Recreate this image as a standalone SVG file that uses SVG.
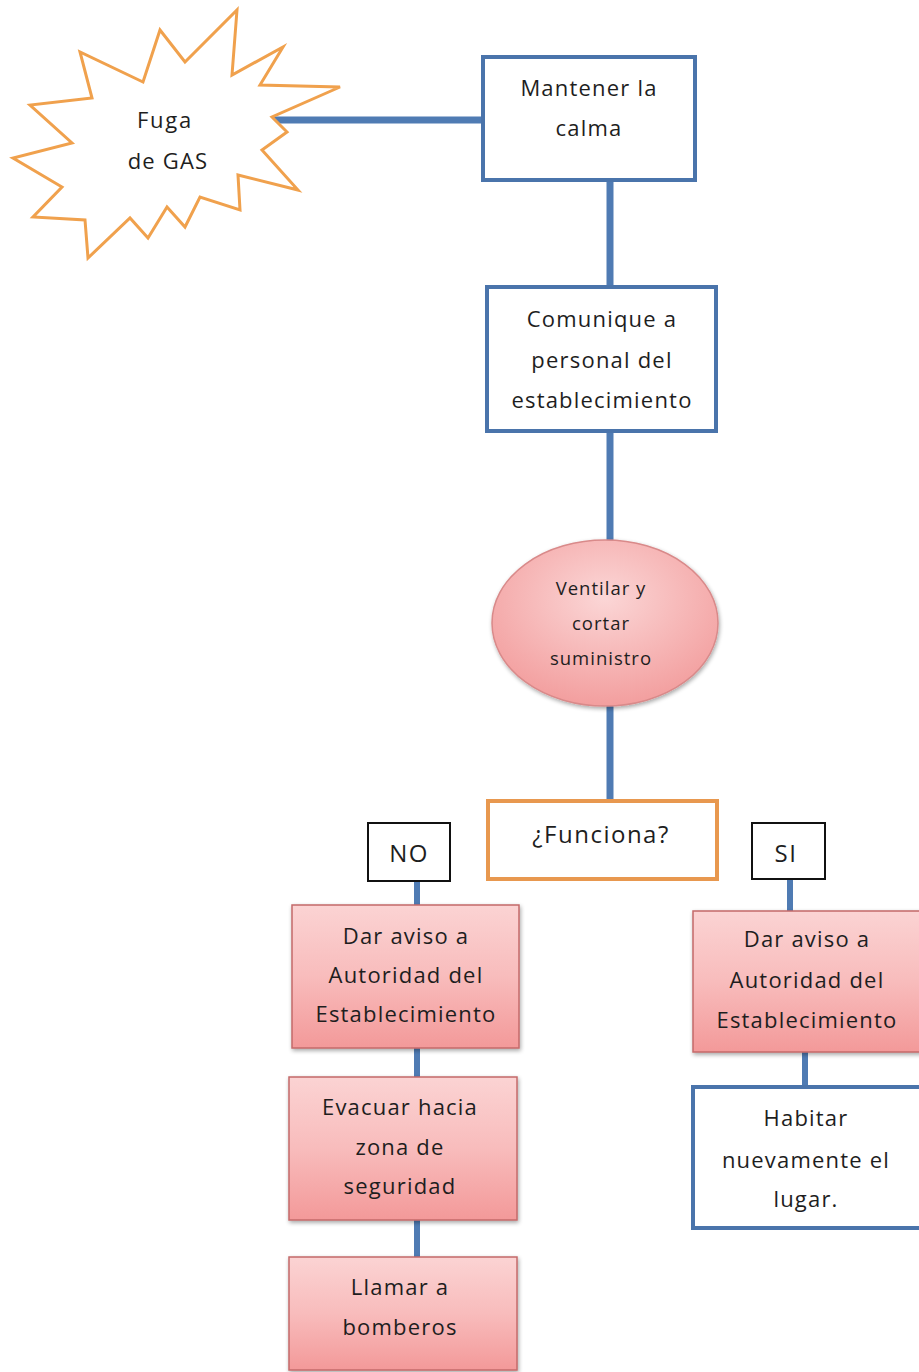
<svg xmlns="http://www.w3.org/2000/svg" width="919" height="1372" viewBox="0 0 919 1372">
<defs>
<linearGradient id="pink" x1="0" y1="0" x2="0" y2="1">
<stop offset="0" stop-color="#fbd3d3"/>
<stop offset="0.5" stop-color="#f8bcbc"/>
<stop offset="1" stop-color="#f39999"/>
</linearGradient>
<radialGradient id="pinkEl" cx="0.5" cy="0.35" r="0.7">
<stop offset="0" stop-color="#fbd6d6"/>
<stop offset="1" stop-color="#f29a9a"/>
</radialGradient>
<filter id="sh" x="-10%" y="-10%" width="125%" height="125%">
<feGaussianBlur in="SourceAlpha" stdDeviation="2"/>
<feOffset dx="1" dy="2" result="b"/>
<feComponentTransfer><feFuncA type="linear" slope="0.35"/></feComponentTransfer>
<feMerge><feMergeNode/><feMergeNode in="SourceGraphic"/></feMerge>
</filter>
</defs>
<style>
.t{font-family:"Open Sans","DejaVu Sans",sans-serif;font-size:22px;letter-spacing:1.2px;fill:#1e1e1e;text-anchor:middle}
.s{font-size:18.5px;letter-spacing:1px}
.b{font-size:24px;letter-spacing:1.5px}
.blue{fill:#fff;stroke:#4a74ab;stroke-width:4}
.pk{fill:url(#pink);stroke:#c46a6a;stroke-width:1.5;filter:url(#sh)}
.lab{fill:#fff;stroke:#111;stroke-width:2}
.c{stroke:#4f7bb3;fill:none;stroke-width:7}
.c2{stroke:#4f7bb3;fill:none;stroke-width:6}
</style>
<rect width="919" height="1372" fill="#fff"/>
<g id="connectors">
<line class="c" x1="272" y1="120" x2="486" y2="120"/>
<line class="c" x1="610" y1="180" x2="610" y2="288"/>
<line class="c" x1="610" y1="430" x2="610" y2="541"/>
<line class="c" x1="610" y1="706" x2="610" y2="801"/>
<line class="c2" x1="417" y1="881" x2="417" y2="906"/>
<line class="c2" x1="417" y1="1048" x2="417" y2="1078"/>
<line class="c2" x1="417" y1="1220" x2="417" y2="1258"/>
<line class="c2" x1="790" y1="879" x2="790" y2="911"/>
<line class="c2" x1="805" y1="1052" x2="805" y2="1087"/>
</g>
<g id="fuga">
<polygon points="237,10 232,75 283,47 260,85 340,87 272,117 287,132 262,150 298,190 238,175 240,210 200,197 185,227 167,207 148,238 130,218 88,258 85,220 33,217 62,187 13,158 72,143 30,105 92,98 80,52 143,82 160,30 185,62" fill="#fff" stroke="#f0a14d" stroke-width="3" stroke-linejoin="miter"/>
<text class="t" x="165" y="128" style="letter-spacing:1.8px">Fuga</text>
<text class="t" x="168" y="169">de GAS</text>
</g>
<g id="mantener">
<rect class="blue" x="483" y="57" width="212" height="123"/>
<text class="t" x="589" y="96">Mantener la</text>
<text class="t" x="589" y="136">calma</text>
</g>
<g id="comunique">
<rect class="blue" x="487" y="287" width="229" height="144"/>
<text class="t" x="602" y="327">Comunique a</text>
<text class="t" x="602" y="368">personal del</text>
<text class="t" x="602" y="408">establecimiento</text>
</g>
<g id="ventilar">
<ellipse cx="605" cy="623" rx="113" ry="83" fill="url(#pinkEl)" stroke="#d98a8a" stroke-width="1.5" filter="url(#sh)"/>
<text class="t s" x="601" y="595">Ventilar y</text>
<text class="t s" x="601" y="630">cortar</text>
<text class="t s" x="601" y="665">suministro</text>
</g>
<g id="funciona">
<rect x="488" y="801" width="229" height="78" fill="#fff" stroke="#e8984f" stroke-width="4"/>
<text class="t b" x="601" y="843">¿Funciona?</text>
</g>
<g id="no">
<rect class="lab" x="368" y="823" width="82" height="58"/>
<text class="t b" x="409" y="862">NO</text>
</g>
<g id="si">
<rect class="lab" x="752" y="823" width="73" height="56"/>
<text class="t b" x="786" y="862">SI</text>
</g>
<g id="aviso-no">
<rect class="pk" x="292" y="905" width="227" height="143"/>
<text class="t" x="406" y="944">Dar aviso a</text>
<text class="t" x="406" y="983">Autoridad del</text>
<text class="t" x="406" y="1022">Establecimiento</text>
</g>
<g id="evacuar">
<rect class="pk" x="289" y="1077" width="228" height="143"/>
<text class="t" x="400" y="1115">Evacuar hacia</text>
<text class="t" x="400" y="1155">zona de</text>
<text class="t" x="400" y="1194">seguridad</text>
</g>
<g id="llamar">
<rect class="pk" x="289" y="1257" width="228" height="113"/>
<text class="t" x="400" y="1295">Llamar a</text>
<text class="t" x="400" y="1335">bomberos</text>
</g>
<g id="aviso-si">
<rect class="pk" x="693" y="911" width="240" height="141"/>
<text class="t" x="807" y="947">Dar aviso a</text>
<text class="t" x="807" y="988">Autoridad del</text>
<text class="t" x="807" y="1028">Establecimiento</text>
</g>
<g id="habitar">
<rect class="blue" x="693" y="1087" width="240" height="141"/>
<text class="t" x="806" y="1126">Habitar</text>
<text class="t" x="806" y="1168">nuevamente el</text>
<text class="t" x="806" y="1207">lugar.</text>
</g>
</svg>
